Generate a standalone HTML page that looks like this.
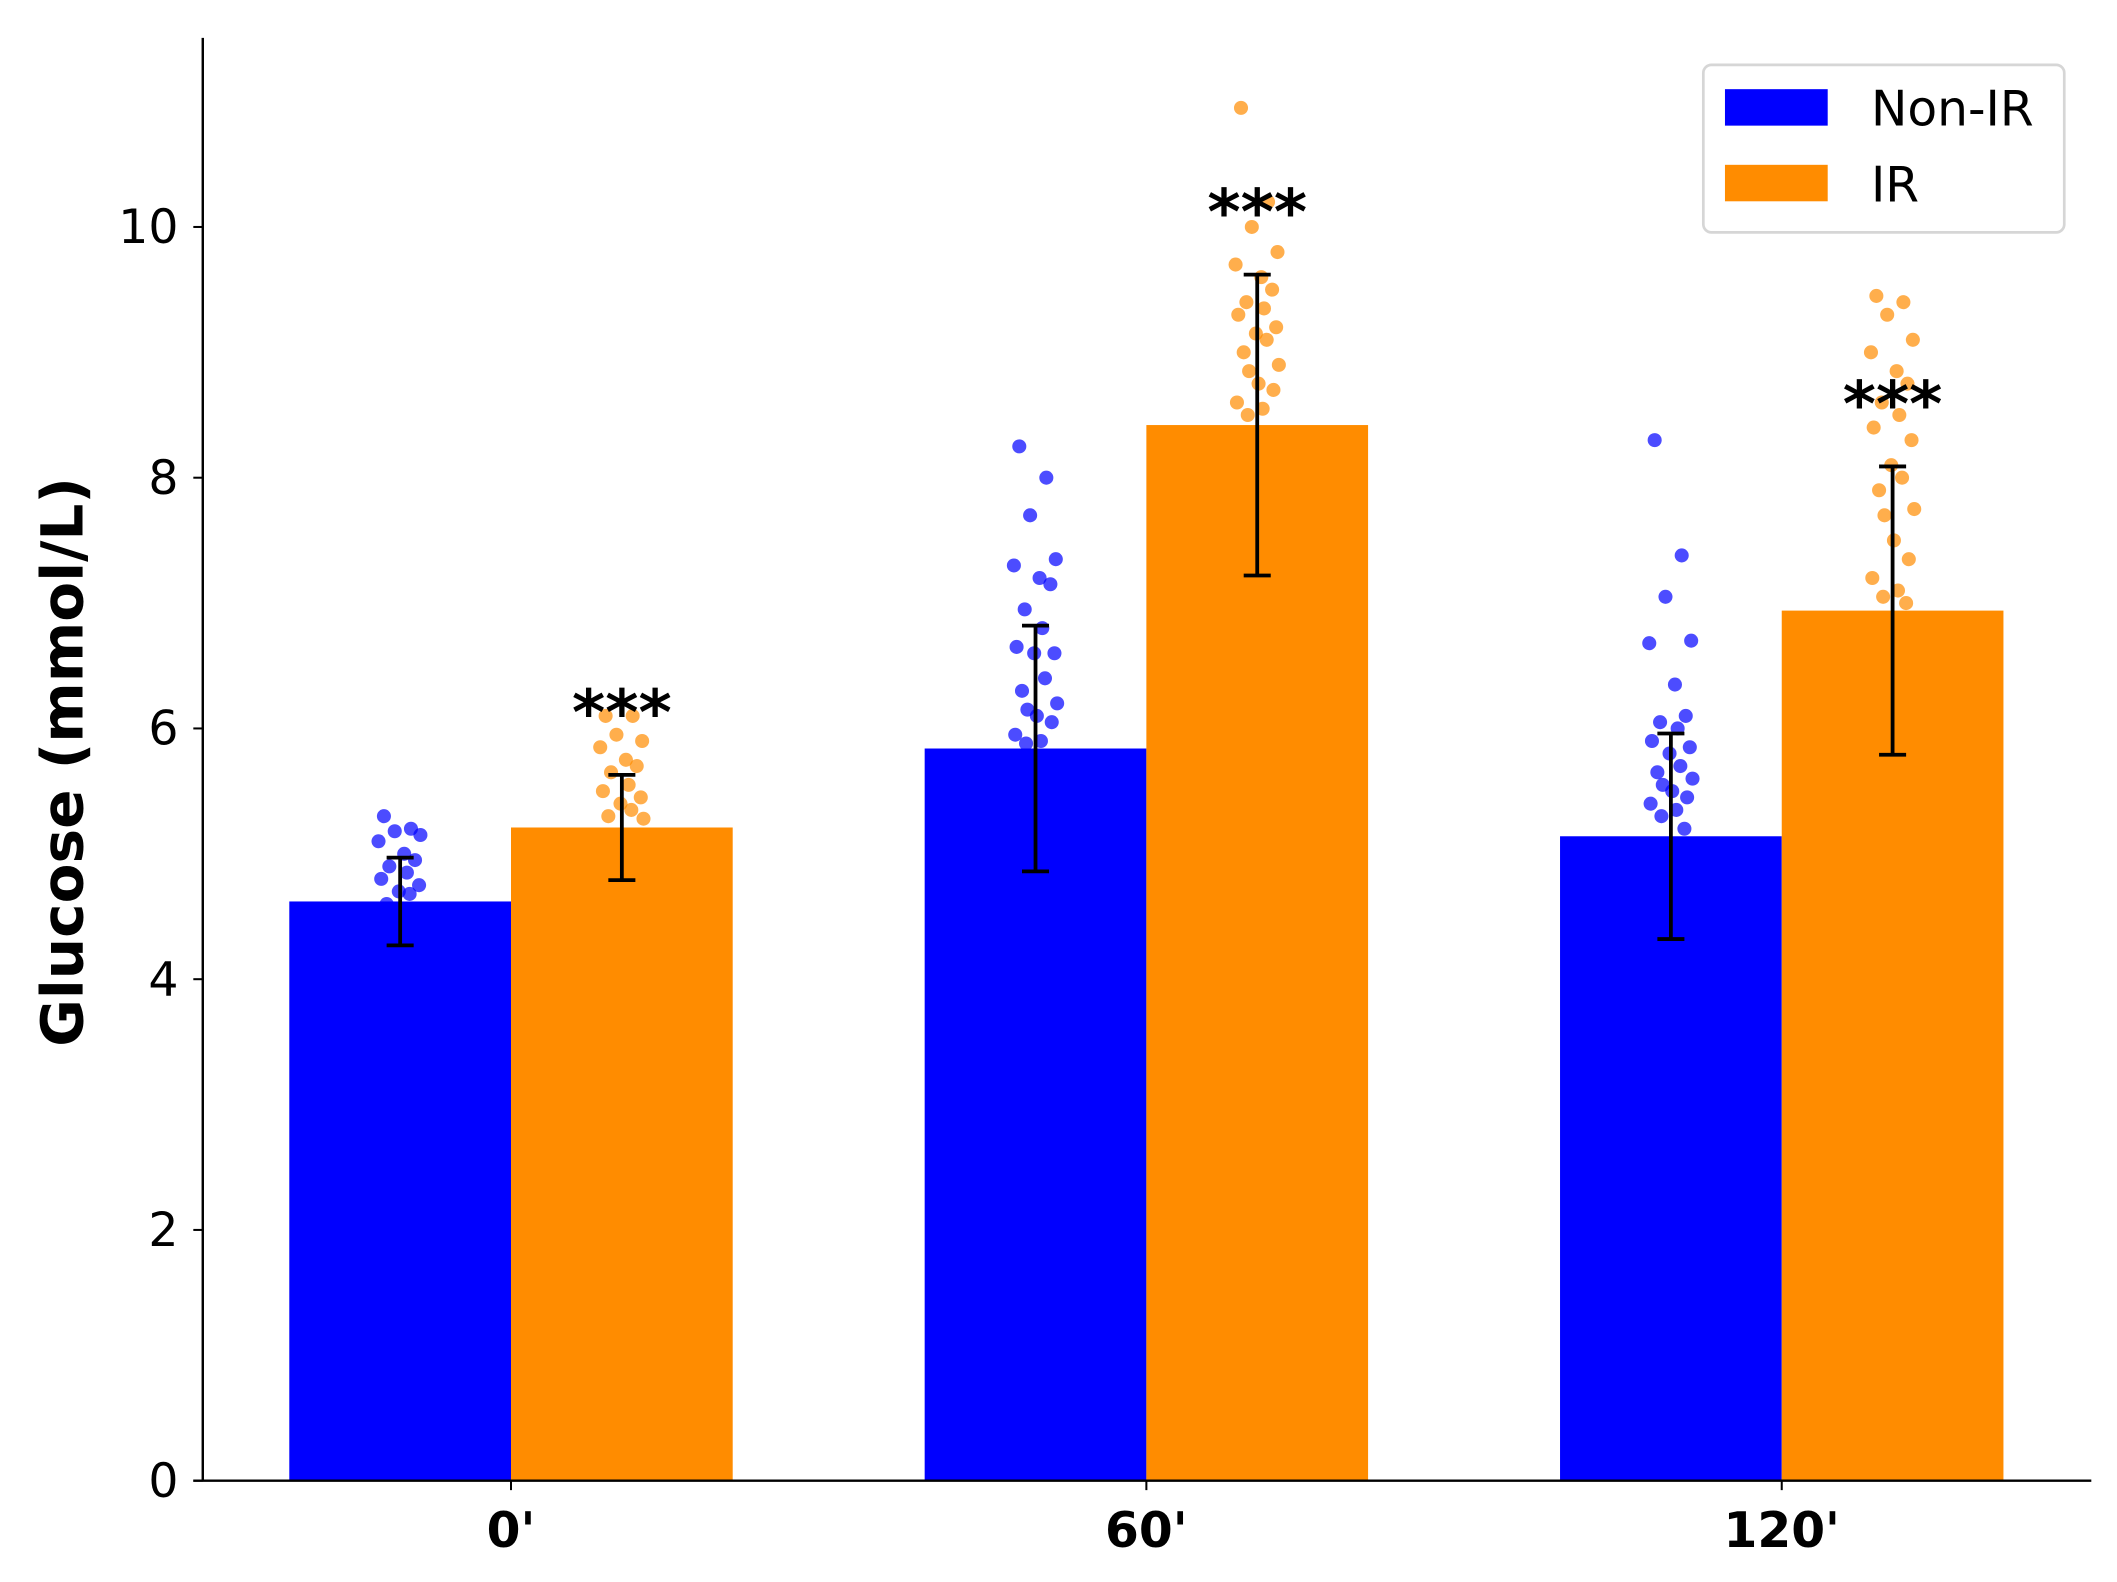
<!DOCTYPE html>
<html><head><meta charset="utf-8"><style>
html,body{margin:0;padding:0;background:#fff;}
svg{display:block;font-family:"DejaVu Sans","Liberation Sans",sans-serif;}
</style></head>
<body>
<svg id="chart" width="2117" height="1582" viewBox="0 0 1566 1171" preserveAspectRatio="none" xmlns="http://www.w3.org/2000/svg">
<g id="dots"></g>
<g id="bars"></g>
<g id="errs"></g>
<g id="axes"></g>
<text transform="translate(61,564) rotate(-90)" text-anchor="middle" font-size="43" font-weight="bold">Glucose (mmol/L)</text>
<g>
<rect x="1260" y="48" width="267" height="124" rx="6" fill="#fff" stroke="#d6d6d6" stroke-width="2"/>
<rect x="1276" y="66" width="76" height="27" fill="#0000ff"/>
<text x="1384" y="93" font-size="36">Non-IR</text>
<rect x="1276" y="122" width="76" height="27" fill="#ff8c00"/>
<text x="1384" y="149" font-size="36">IR</text>
</g>
</svg>
<script>
const categories = ["0'", "60'", "120'"];
const nonIRMeans = [4.62, 5.84, 5.14];
const irMeans = [5.21, 8.42, 6.94];
const nonIRSd = [0.35, 0.98, 0.82];
const irSd = [0.42, 1.2, 1.15];
const significance = ["***", "***", "***"];
const yTicks = [0, 2, 4, 6, 8, 10];
const nonIRPoints = [
  [5.3,5.2,5.18,5.15,5.1,5.0,4.95,4.9,4.85,4.8,4.75,4.7,4.68,4.6,4.5,4.4],
  [8.25,8.0,7.7,7.35,7.3,7.2,7.15,6.95,6.8,6.65,6.6,6.6,6.4,6.3,6.2,6.15,6.1,6.05,5.95,5.9,5.88,5.5,5.2],
  [8.3,7.38,7.05,6.7,6.68,6.35,6.1,6.05,6.0,5.9,5.85,5.8,5.7,5.65,5.6,5.55,5.5,5.45,5.4,5.35,5.3,5.2,5.0]
];
const irPoints = [
  [6.1,6.1,5.95,5.9,5.85,5.75,5.7,5.65,5.55,5.5,5.45,5.4,5.35,5.3,5.28,5.0],
  [10.95,10.2,10.0,9.8,9.7,9.6,9.5,9.4,9.35,9.3,9.2,9.15,9.1,9.0,8.9,8.85,8.75,8.7,8.6,8.55,8.5,8.0],
  [9.45,9.4,9.3,9.1,9.0,8.85,8.75,8.6,8.5,8.4,8.3,8.1,8.0,7.9,7.75,7.7,7.5,7.35,7.2,7.1,7.05,7.0,6.5]
];
const NS = "http://www.w3.org/2000/svg";
const y0 = 1096, pxPerUnit = 92.8;
function yScale(v){ return y0 - v * pxPerUnit; }
function xCenter(i){ return 378 + i * 470; }
const barW = 164;
function mk(parent, tag, attrs){
  const e = document.createElementNS(NS, tag);
  for (const k in attrs) e.setAttribute(k, attrs[k]);
  document.getElementById(parent).appendChild(e);
  return e;
}
const jit = [-12,8,-4,15,-16,3,11,-8,5,-14,14,-1,7,-10,16,-6,1,12,-15,4,-7,10,-3];
function drawDots(points, offset, color, name){
  points.forEach((arr, i) => {
    arr.forEach((v, j) => {
      const c = mk("dots", "circle", {cx: xCenter(i) + offset + jit[j % jit.length], cy: yScale(v), r: 5.2, fill: color, "fill-opacity": 0.7});
      
      
    });
  });
}
drawDots(nonIRPoints, -barW/2, "#0000ff", "non-ir-point");
drawDots(irPoints, barW/2, "#ff8c00", "ir-point");
categories.forEach((c, i) => {
  const b1 = mk("bars", "rect", {x: xCenter(i) - barW, y: yScale(nonIRMeans[i]), width: barW, height: y0 - yScale(nonIRMeans[i]), fill: "#0000ff"});
  
  
  const b2 = mk("bars", "rect", {x: xCenter(i), y: yScale(irMeans[i]), width: barW, height: y0 - yScale(irMeans[i]), fill: "#ff8c00"});
  
  
  [[nonIRMeans[i], nonIRSd[i], xCenter(i) - barW/2], [irMeans[i], irSd[i], xCenter(i) + barW/2]].forEach(([m, s, x]) => {
    const g = mk("errs", "path", {d: `M${x},${yScale(m-s)}V${yScale(m+s)}M${x-10},${yScale(m-s)}H${x+10}M${x-10},${yScale(m+s)}H${x+10}`, stroke: "#000", "stroke-width": 2.8, fill: "none"});
    
    
  });
  const st = mk("errs", "text", {x: xCenter(i) + barW/2, y: yScale(irMeans[i] + irSd[i]) - 30, "text-anchor": "middle", "font-size": 47, "font-weight": "bold"});
  st.textContent = significance[i];
  
  
  const xl = mk("axes", "text", {x: xCenter(i), y: 1145, "text-anchor": "middle", "font-size": 36, "font-weight": "bold"});
  xl.textContent = c;
  
  
  const xt = mk("axes", "line", {x1: xCenter(i), x2: xCenter(i), y1: y0, y2: y0 + 7, stroke: "#000", "stroke-width": 1.5});
  
  
});
yTicks.forEach(t => {
  const tl = mk("axes", "line", {x1: 143, x2: 150, y1: yScale(t), y2: yScale(t), stroke: "#000", "stroke-width": 1.5});
  
  
  const tx = mk("axes", "text", {x: 132, y: yScale(t) + 12, "text-anchor": "end", "font-size": 35});
  tx.textContent = t;
  
  
});
const ys = mk("axes", "line", {x1: 150, x2: 150, y1: 28, y2: y0, stroke: "#000", "stroke-width": 1.8});


const xs = mk("axes", "line", {x1: 143, x2: 1547, y1: y0, y2: y0, stroke: "#000", "stroke-width": 1.8});


</script>
</body></html>
